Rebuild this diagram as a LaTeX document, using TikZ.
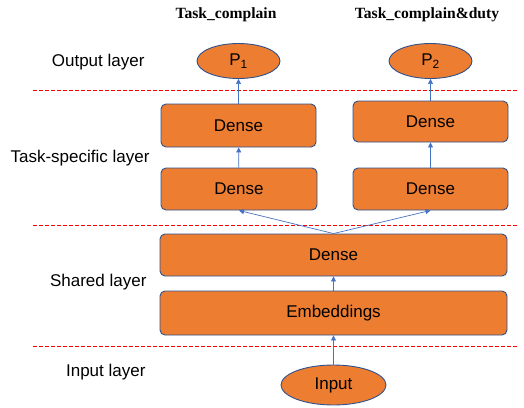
\documentclass[tikz,border=0pt]{standalone}
\usepackage{fontspec}
\setmainfont{Liberation Sans}
\newfontfamily\titlefont{Liberation Serif}
\usepackage{tikz}
\usetikzlibrary{arrows.meta,positioning,shapes.geometric}
\definecolor{boxfill}{HTML}{ED7D31}
\definecolor{boxline}{HTML}{2F528F}
\definecolor{arrowblue}{HTML}{4472C4}
\definecolor{sepred}{HTML}{FF0000}

\begin{document}
\begin{tikzpicture}[x=1pt, y=-1pt,
    font=\fontsize{17}{20}\selectfont,
    layerbox/.style={draw=boxline, fill=boxfill, line width=0.9pt,
      rounded corners=5pt, inner sep=0pt},
    layeroval/.style={ellipse, draw=boxline, fill=boxfill, line width=0.9pt,
      inner sep=0pt},
    flow/.style={draw=arrowblue, line width=0.7pt,
      -{Triangle[width=5pt,length=5pt]}},
    sepline/.style={draw=sepred, line width=0.9pt, dash pattern=on 3.5pt off 2.5pt},
    layername/.style={anchor=east},
    taskname/.style={font=\titlefont\bfseries\fontsize{15.6}{18}\selectfont}]
  \useasboundingbox (0,0) rectangle (524,407);
  % separators
  \draw[sepline] (33,90) -- (518,90);
  \draw[sepline] (33,225) -- (518,225);
  \draw[sepline] (33,346) -- (518,346);
  % layer names
  \node[layername] (lout) at (148,62) {Output layer};
  \node[layername] (ltask) at (153,158) {Task-specific layer};
  \node[layername] (lshared) at (150,282) {Shared layer};
  \node[layername] (linput) at (149,372) {Input layer};
  % task titles
  \node[taskname] (t1) at (226,15) {Task\_complain};
  \node[taskname] (t2) at (427,15) {Task\_complain\&duty};
  % blocks
  \node[layeroval, minimum width=105pt, minimum height=40pt] (input) at (333.5,385) {Input};
  \node[layerbox, minimum width=347pt, minimum height=44pt] (embed) at (333.5,313) {Embeddings};
  \node[layerbox, minimum width=347pt, minimum height=42pt] (shared) at (333.5,255) {Dense};
  \node[layerbox, minimum width=156pt, minimum height=42pt] (denseA) at (239,189) {Dense};
  \node[layerbox, minimum width=155pt, minimum height=42pt] (denseB) at (430.5,189) {Dense};
  \node[layerbox, minimum width=155pt, minimum height=43pt] (denseC) at (238.5,125.5) {Dense};
  \node[layerbox, minimum width=155pt, minimum height=41pt] (denseD) at (430.5,121.5) {Dense};
  \node[layeroval, minimum width=83pt, minimum height=35pt] (p1) at (238.5,61) {P\textsubscript{1}};
  \node[layeroval, minimum width=83pt, minimum height=35pt] (p2) at (430.5,61) {P\textsubscript{2}};
  % connectors
  \draw[flow] (input) -- (embed);
  \draw[flow] (embed) -- (shared);
  \draw[flow] (shared.north) -- (denseA.south);
  \draw[flow] (shared.north) -- (denseB.south);
  \draw[flow] (denseA) -- (denseC);
  \draw[flow] (denseB) -- (denseD);
  \draw[flow] (denseC) -- (p1);
  \draw[flow] (denseD) -- (p2);
\end{tikzpicture}
\end{document}
